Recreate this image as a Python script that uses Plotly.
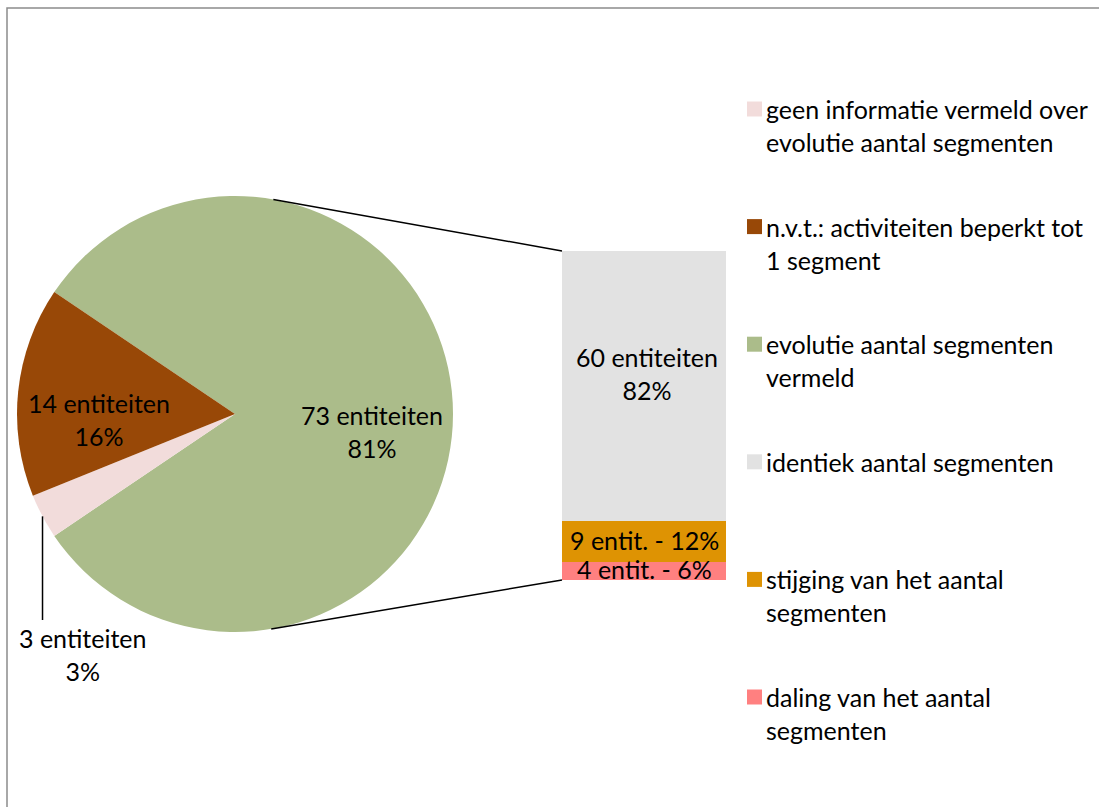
import math
import plotly.graph_objects as go

W, H = 1099, 807

# Overall breakdown of entities (pie)
pie_labels = [
    "geen informatie vermeld over<br>evolutie aantal segmenten",
    "n.v.t.: activiteiten beperkt tot<br>1 segment",
    "evolutie aantal segmenten<br>vermeld",
]
pie_counts = [3, 14, 73]
pie_pcts = [3, 16, 81]
pie_colors = ["#F2DCDB", "#984807", "#ABBC8A"]

# Detail of the "evolutie vermeld" slice (stacked bar)
bar_labels = [
    "identiek aantal segmenten",
    "stijging van het aantal<br>segmenten",
    "daling van het aantal<br>segmenten",
]
bar_counts = [60, 9, 4]
bar_pcts = [82, 12, 6]
bar_colors = ["#E2E2E2", "#DE9303", "#FF8080"]

FONT = "Lato"
FS = 25

# ---- layout geometry (pixels) ----
PIE_L, PIE_R, PIE_T, PIE_B = 17, 453, 196, 632
BAR_L, BAR_R, BAR_T, BAR_B = 562, 726, 251, 580
cx, cy = (PIE_L + PIE_R) / 2, (PIE_T + PIE_B) / 2
r = (PIE_R - PIE_L) / 2
ROT = -56  # clockwise-from-top angle where the big slice starts


def px(x):
    return x / W


def py(y):
    return 1 - y / H


fig = go.Figure()

# pie, drawn clockwise: big slice, small slice, medium slice
order = [2, 0, 1]
fig.add_trace(go.Pie(
    values=[pie_counts[i] for i in order],
    labels=[pie_labels[i] for i in order],
    marker=dict(colors=[pie_colors[i] for i in order], line=dict(width=0)),
    sort=False, direction="clockwise", rotation=ROT,
    textinfo="none", hoverinfo="label+value+percent",
    domain=dict(x=[px(PIE_L), px(PIE_R)], y=[py(PIE_B), py(PIE_T)]),
    showlegend=False,
))

# stacked bar, bottom to top: daling, stijging, identiek
for i in [2, 1, 0]:
    fig.add_trace(go.Bar(
        x=[0], y=[bar_counts[i]], name=bar_labels[i],
        marker=dict(color=bar_colors[i], line=dict(width=0)),
        showlegend=False, hoverinfo="name+y",
    ))

bar_total = sum(bar_counts)


def bar_y(v):
    return BAR_B - v / bar_total * (BAR_B - BAR_T)


shapes = []
annotations = []


# connector lines: tangents from the bar corners to the pie
def tangent(x0, y0, upper):
    dx, dy = x0 - cx, cy - y0
    d = math.hypot(dx, dy)
    phi = math.atan2(dy, dx)
    a = math.acos(r / d)
    t = phi + a if upper else phi - a
    return cx + r * math.cos(t), cy - r * math.sin(t)


for corner_y, upper in [(bar_y(bar_total), True), (bar_y(0), False)]:
    tx, ty = tangent(BAR_L, corner_y, upper)
    shapes.append(dict(type="line", xref="paper", yref="paper",
                       x0=px(tx), y0=py(ty), x1=px(BAR_L), y1=py(corner_y),
                       line=dict(color="black", width=1.5)))

# slice mid-angles (math convention, degrees)
start = 90 - ROT
pie_total = sum(pie_counts)
mid = {}
a = start
for i in order:
    sweep = pie_counts[i] / pie_total * 360
    mid[i] = a - sweep / 2
    a -= sweep

# leader line for the small slice label
m = math.radians(mid[0])
lx, ly = cx + r * math.cos(m), cy - r * math.sin(m)
shapes.append(dict(type="line", xref="paper", yref="paper",
                   x0=px(lx), y0=py(ly), x1=px(lx), y1=py(620),
                   line=dict(color="black", width=1.5)))


def label(x, y, text, **kw):
    d = dict(x=px(x), y=py(y), xref="paper", yref="paper", text=text,
             xanchor="center", yanchor="middle",
             showarrow=False, font=dict(family=FONT, size=FS, color="black"))
    d.update(kw)
    annotations.append(d)


# pie data labels
pie_label_pos = {2: (372, 432), 1: (99, 419), 0: (82, 654)}
for i, (x, y) in pie_label_pos.items():
    label(x, y, f"{pie_counts[i]} entiteiten<br>{pie_pcts[i]}%")

# bar data labels
label(647, bar_y(bar_counts[2] + bar_counts[1] + bar_counts[0] / 2) - 13,
      f"{bar_counts[0]} entiteiten<br>{bar_pcts[0]}%")
label(644, bar_y(bar_counts[2] + bar_counts[1] / 2) - 2,
      f"{bar_counts[1]} entit. - {bar_pcts[1]}%")
label(644, bar_y(bar_counts[2] / 2) - 2,
      f"{bar_counts[2]} entit. - {bar_pcts[2]}%")

# legend
legend_labels = pie_labels + bar_labels
legend_colors = pie_colors + bar_colors
for k, (txt, col) in enumerate(zip(legend_labels, legend_colors)):
    yc = 109 + k * 117.6
    shapes.append(dict(type="rect", xref="paper", yref="paper",
                       x0=px(747), x1=px(762), y0=py(yc + 7.5), y1=py(yc - 7.5),
                       fillcolor=col, line=dict(width=0)))
    label(764, yc - 17, txt, xanchor="left", yanchor="top", align="left")

# chart-area border
shapes.append(dict(type="rect", xref="paper", yref="paper",
                   x0=px(7), y0=-0.05, x1=1.05, y1=py(8),
                   line=dict(color="#8C8C8C", width=1.5)))

fig.update_layout(
    width=W, height=H, margin=dict(l=0, r=0, t=0, b=0),
    paper_bgcolor="white", plot_bgcolor="rgba(0,0,0,0)",
    barmode="stack", bargap=0,
    xaxis=dict(domain=[px(BAR_L), px(BAR_R)], range=[-0.5, 0.5], visible=False, fixedrange=True),
    yaxis=dict(domain=[py(BAR_B), py(BAR_T)], range=[0, bar_total], visible=False, fixedrange=True),
    shapes=shapes, annotations=annotations,
    font=dict(family=FONT, size=FS, color="black"),
)

fig.write_html("out.html")
